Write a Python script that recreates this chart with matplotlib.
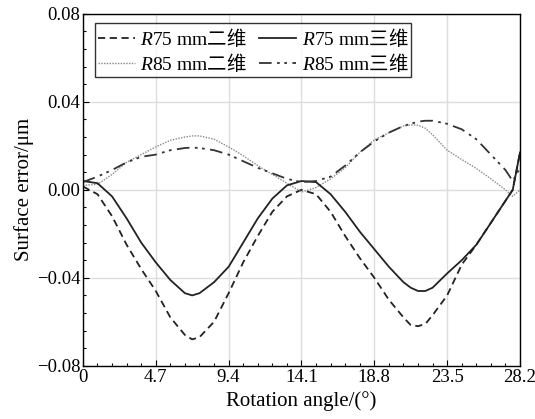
import matplotlib
matplotlib.use("Agg")
import matplotlib.pyplot as plt
from matplotlib.ticker import MultipleLocator, FuncFormatter

plt.rcParams['font.family'] = ['Liberation Serif', 'Noto Sans CJK SC']
plt.rcParams['mathtext.fontset'] = 'custom'
plt.rcParams['mathtext.rm'] = 'Liberation Serif'
plt.rcParams['mathtext.it'] = 'Liberation Serif:italic'
plt.rcParams['mathtext.sf'] = 'Noto Sans CJK SC'

# rotation angle samples (deg)
angle = [0, 0.94, 1.88, 2.82, 3.76, 4.7, 5.64, 6.58, 7.05, 7.52, 8.46, 9.4,
         10.34, 11.28, 12.22, 13.16, 14.1, 15.04, 15.98, 16.92, 17.86, 18.8,
         19.74, 20.68, 21.15, 21.62, 22.09, 22.56, 23.5, 24.44, 25.38, 26.32, 27.26, 27.73, 28.2]

# surface error (um)
r75_2d = [0.0015, -0.002, -0.012, -0.025, -0.036, -0.046, -0.058, -0.066, -0.068, -0.067, -0.060, -0.047,
          -0.033, -0.021, -0.010, -0.003, 0.000, -0.002, -0.010, -0.021, -0.031, -0.040,
          -0.050, -0.058, -0.0615, -0.062, -0.061, -0.057, -0.048, -0.034, -0.025, -0.015, -0.005, 0.000, 0.017]
r75_3d = [0.004, 0.003, -0.003, -0.013, -0.024, -0.033, -0.041, -0.047, -0.048, -0.047, -0.042, -0.035,
          -0.024, -0.013, -0.004, 0.002, 0.004, 0.0035, -0.002, -0.010, -0.019, -0.027,
          -0.035, -0.042, -0.0445, -0.046, -0.046, -0.0445, -0.038, -0.032, -0.025, -0.015, -0.005, 0.000, 0.017]
r85_2d = [0.002, 0.0025, 0.007, 0.0125, 0.016, 0.0195, 0.0225, 0.024, 0.0245, 0.0245, 0.023, 0.0195,
          0.0155, 0.011, 0.007, 0.003, -0.001, 0.001, 0.005, 0.010, 0.017, 0.0227,
          0.026, 0.029, 0.0295, 0.0293, 0.028, 0.025, 0.018, 0.0138, 0.0097, 0.005, 0.000, -0.003, 0.000]
r85_3d = [0.0035, 0.006, 0.009, 0.0125, 0.015, 0.016, 0.018, 0.019, 0.0192, 0.019, 0.018, 0.016,
          0.013, 0.010, 0.0075, 0.005, 0.0035, 0.004, 0.006, 0.011, 0.017, 0.022,
          0.026, 0.029, 0.030, 0.031, 0.0314, 0.0314, 0.030, 0.0275, 0.023, 0.016, 0.009, 0.004, 0.010]

xticks = [0, 4.7, 9.4, 14.1, 18.8, 23.5, 28.2]
xticklabels = ['0', '4.7', '9.4', '14.1', '18.8', '23.5', '28.2']

fig = plt.figure(figsize=(5.35, 4.19), dpi=100)
ax = fig.add_axes([0.155, 0.127, 0.817, 0.84])

# plotted in column order so the 2-column legend reads row by row
ax.plot(angle, r75_2d, color='#222222', lw=1.3, ls=(0, (4, 2.5)), label=r'$R$75 mm$\mathsf{二维}$')
ax.plot(angle, r85_2d, color='#888888', lw=1.0, ls=(0, (1, 1)), label=r'$R$85 mm$\mathsf{二维}$')
ax.plot(angle, r75_3d, color='#222222', lw=1.3, ls='-', label=r'$R$75 mm$\mathsf{三维}$')
ax.plot(angle, r85_3d, color='#333333', lw=1.3, ls=(0, (7, 3, 1.5, 2.5, 1.5, 3)), label=r'$R$85 mm$\mathsf{三维}$')

ax.set_xlim(0, 28.2)
ax.set_ylim(-0.08, 0.08)
ax.set_xticks(xticks)
ax.set_xticklabels(xticklabels)
ax.set_yticks([-0.08, -0.04, 0.0, 0.04, 0.08])
ax.yaxis.set_major_formatter(FuncFormatter(lambda v, p: ('%.2f' % v).replace('-', '\u2212')))
ax.xaxis.set_minor_locator(MultipleLocator(0.94))
ax.yaxis.set_minor_locator(MultipleLocator(0.008))
ax.tick_params(which='both', direction='in', labelsize=13.5, width=0.8, pad=2)
ax.tick_params(which='major', length=4)
ax.tick_params(which='minor', length=2.5)
ax.grid(True, which='major', color='#dddddd', lw=1)
for s in ax.spines.values():
    s.set_linewidth(1.0)

ax.set_xlabel('Rotation angle/(°)', fontsize=15, labelpad=4)
ax.set_ylabel('Surface error/μm', fontsize=15, labelpad=2)

leg = ax.legend(loc='upper left', ncol=2, fontsize=14, frameon=True, fancybox=False,
                edgecolor='black', handlelength=1.9, handletextpad=0.3, columnspacing=0.6,
                borderpad=0.15, labelspacing=0.1, borderaxespad=0,
                bbox_to_anchor=(0.027, 0.974))
leg.get_frame().set_linewidth(1.0)

fig.savefig('out.png', dpi=100)
